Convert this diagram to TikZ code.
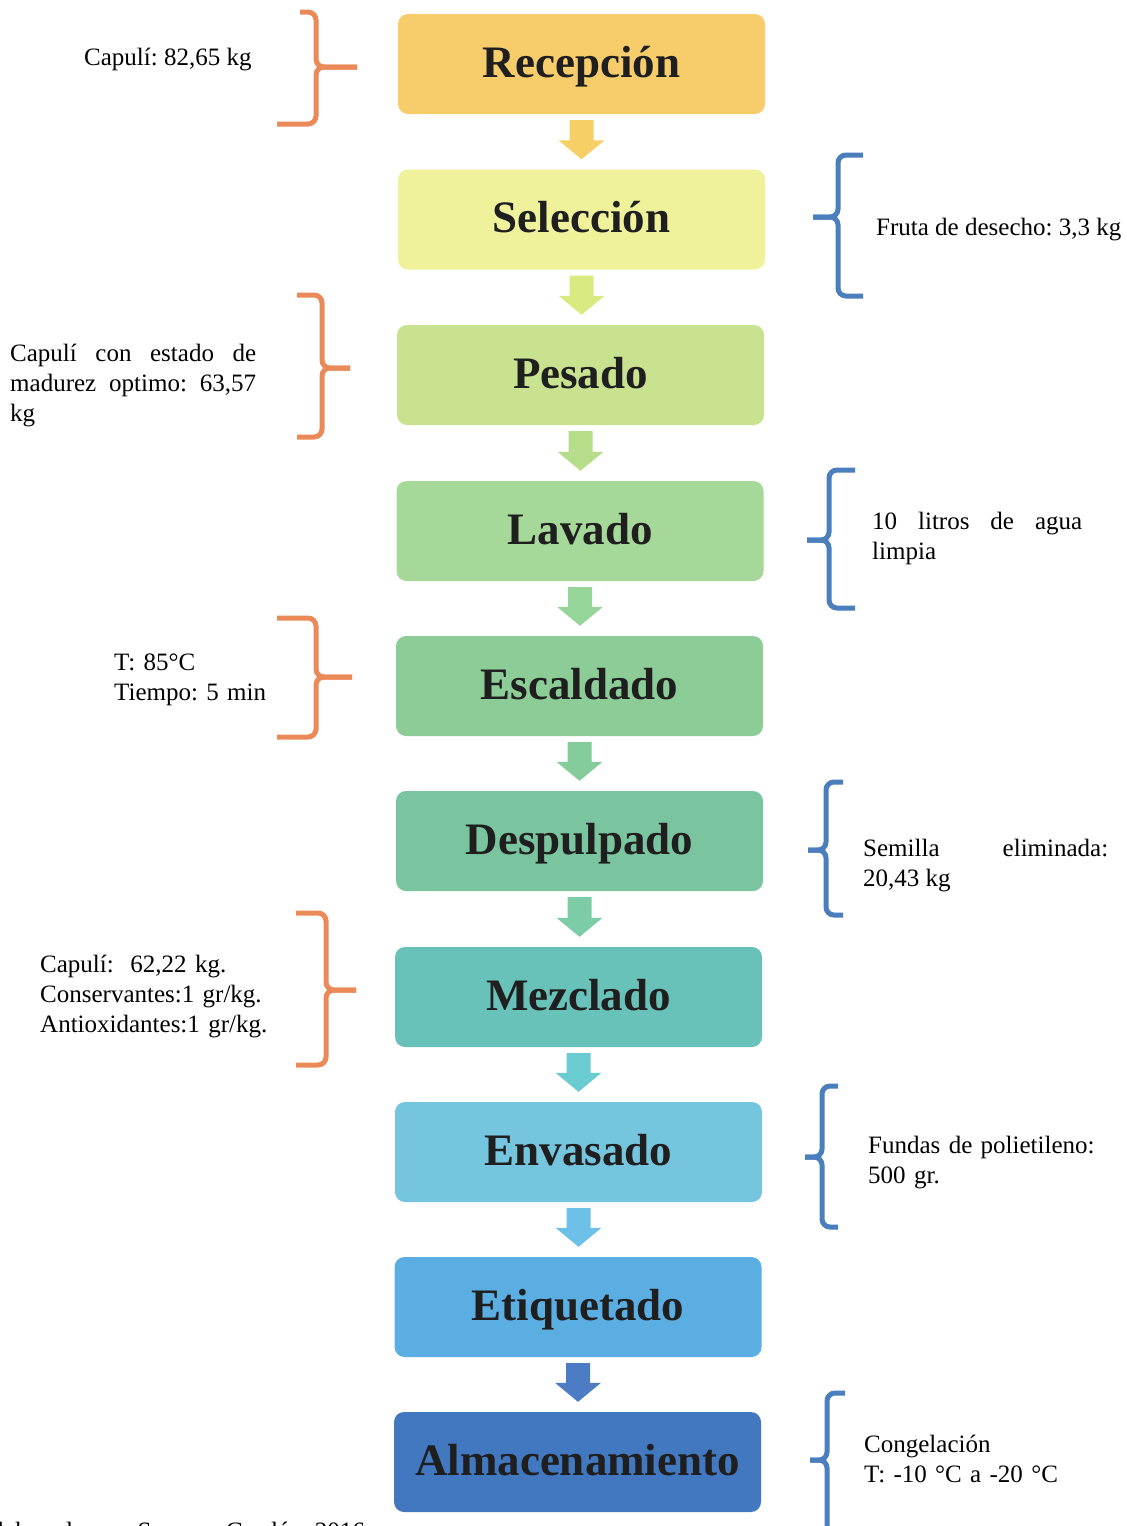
\documentclass[tikz,border=0pt]{standalone}
\usepackage{fontspec}
\setmainfont{Liberation Serif}
\usetikzlibrary{calc}
\setlength\parindent{0pt}
\hyphenpenalty=10000
\exhyphenpenalty=10000
\tolerance=10000
\frenchspacing
\definecolor{cRec}{HTML}{F7CC6A}
\definecolor{cSel}{HTML}{EFF29B}
\definecolor{cPes}{HTML}{C8E28F}
\definecolor{cLav}{HTML}{A6D89A}
\definecolor{cEsc}{HTML}{8CCD97}
\definecolor{cDes}{HTML}{7BC4A0}
\definecolor{cMez}{HTML}{69C2B9}
\definecolor{cEnv}{HTML}{74C5DD}
\definecolor{cEti}{HTML}{5BAEE2}
\definecolor{cAlm}{HTML}{4278C0}
\definecolor{aA}{HTML}{F6CF66}
\definecolor{aB}{HTML}{D8EA80}
\definecolor{aC}{HTML}{B6DD8A}
\definecolor{aD}{HTML}{97D69A}
\definecolor{aE}{HTML}{84CC9C}
\definecolor{aF}{HTML}{7CCCA8}
\definecolor{aG}{HTML}{6ACCD0}
\definecolor{aH}{HTML}{6DC0E8}
\definecolor{aI}{HTML}{4C7CC3}
\definecolor{braceorange}{HTML}{EA8A58}
\definecolor{braceblue}{HTML}{4A7EBC}
\newcommand\blockarrow[3]{%
  \fill[#3] let \p1=(#1.south), \p2=(#2.north) in
    (\x1-12pt,\y1-6pt) -- (\x1+12pt,\y1-6pt) -- (\x1+12pt,\y2+29pt)
    -- (\x1+23pt,\y2+29pt) -- (\x1,\y2+10pt) -- (\x1-23pt,\y2+29pt)
    -- (\x1-12pt,\y2+29pt) -- cycle;}
\begin{document}
\begin{tikzpicture}[x=1pt,y=-1pt,
  stepbox/.style={rounded corners=10pt, minimum width=367pt, minimum height=100pt,
    inner sep=0pt, text height=30pt, text depth=4pt,
    font=\fontsize{45}{54}\selectfont\bfseries, text=black!88},
  side/.style={inner sep=0pt, font=\fontsize{25}{30}\selectfont, anchor=base west},
  sidepar/.style={inner sep=0pt, font=\fontsize{25}{30}\selectfont, anchor=north west},
  obrace/.style={draw=braceorange, line width=5pt, rounded corners=8pt},
  bbrace/.style={draw=braceblue, line width=5pt, rounded corners=8pt}]
\useasboundingbox (0,0) rectangle (1127,1526);

% process boxes
\node[stepbox, fill=cRec] (rec) at (581.5,64) {Recepción};
\node[stepbox, fill=cSel] (sel) at (581.5,219.5) {Selección};
\node[stepbox, fill=cPes] (pes) at (580.5,375) {Pesado};
\node[stepbox, fill=cLav] (lav) at (580,531) {Lavado};
\node[stepbox, fill=cEsc] (esc) at (579.5,686) {Escaldado};
\node[stepbox, fill=cDes] (des) at (579.5,841) {Despulpado};
\node[stepbox, fill=cMez] (mez) at (578.5,997) {Mezclado};
\node[stepbox, fill=cEnv] (env) at (578.5,1152) {Envasado};
\node[stepbox, fill=cEti] (eti) at (578,1307) {Etiquetado};
\node[stepbox, fill=cAlm] (alm) at (577.5,1462) {Almacenamiento};

% block arrows
\blockarrow{rec}{sel}{aA}
\blockarrow{sel}{pes}{aB}
\blockarrow{pes}{lav}{aC}
\blockarrow{lav}{esc}{aD}
\blockarrow{esc}{des}{aE}
\blockarrow{des}{mez}{aF}
\blockarrow{mez}{env}{aG}
\blockarrow{env}{eti}{aH}
\blockarrow{eti}{alm}{aI}

% left texts
\node[side] (l1) at (84,65) {Capulí: 82,65 kg};
\node[sidepar, text width=246pt, align=justify] (l2) at (10,340)
  {\strut Capulí con estado de madurez optimo: 63,57 kg};
\node[sidepar, text width=200pt, align=left] (l3) at (114,649)
  {\strut T: 85°C\\\strut Tiempo: 5 min};
\node[sidepar, text width=250pt, align=left] (l4) at (40,951)
  {\strut Capulí:\ \ 62,22 kg.\\\strut Conservantes:1 gr/kg.\\\strut Antioxidantes:1 gr/kg.};

% right texts
\node[side] (r1) at (876,235) {Fruta de desecho: 3,3 kg};
\node[sidepar, text width=210pt, align=justify] (r2) at (872,508)
  {\strut 10 litros de agua limpia};
\node[sidepar, text width=245pt, align=justify] (r3) at (863,835)
  {\strut Semilla eliminada: 20,43 kg};
\node[sidepar, text width=240pt, align=left] (r4) at (868,1132)
  {\strut Fundas de polietileno:\\\strut 500 gr.};
\node[sidepar, text width=240pt, align=left] (r5) at (864,1431)
  {\strut Congelación\\\strut T: -10 °C a -20 °C};

% source line (cut by the page edge, as in the reference)
\node[side] (src) at (-18,1539) {Elaborado por: Sarango Gordón, 2016};

% orange braces (left side)
\draw[obrace] (300,12) -- (316,12) -- (316,67) -- (357,67);
\draw[obrace] (357,67) -- (316,67) -- (316,124) -- (277,124);
\draw[obrace] (297,295) -- (322,295) -- (322,368) -- (350,368);
\draw[obrace] (350,368) -- (322,368) -- (322,437) -- (297,437);
\draw[obrace] (277,618) -- (316,618) -- (316,677) -- (352,677);
\draw[obrace] (352,677) -- (316,677) -- (316,737) -- (277,737);
\draw[obrace] (296,913) -- (326,913) -- (326,990) -- (356,990);
\draw[obrace] (356,990) -- (326,990) -- (326,1065) -- (296,1065);

% blue braces (right side)
\draw[bbrace] (863,155) -- (838,155) -- (838,217) -- (813,217);
\draw[bbrace] (813,217) -- (838,217) -- (838,296) -- (863,296);
\draw[bbrace] (855,470) -- (829,470) -- (829,540) -- (807,540);
\draw[bbrace] (807,540) -- (829,540) -- (829,608) -- (855,608);
\draw[bbrace] (843,782) -- (826,782) -- (826,850) -- (808,850);
\draw[bbrace] (808,850) -- (826,850) -- (826,915) -- (843,915);
\draw[bbrace] (838,1086) -- (822,1086) -- (822,1157) -- (805,1157);
\draw[bbrace] (805,1157) -- (822,1157) -- (822,1227) -- (838,1227);
\draw[bbrace] (845,1393) -- (827,1393) -- (827,1460) -- (810,1460);
\draw[bbrace] (810,1460) -- (827,1460) -- (827,1535) -- (845,1535);
\end{tikzpicture}
\end{document}
